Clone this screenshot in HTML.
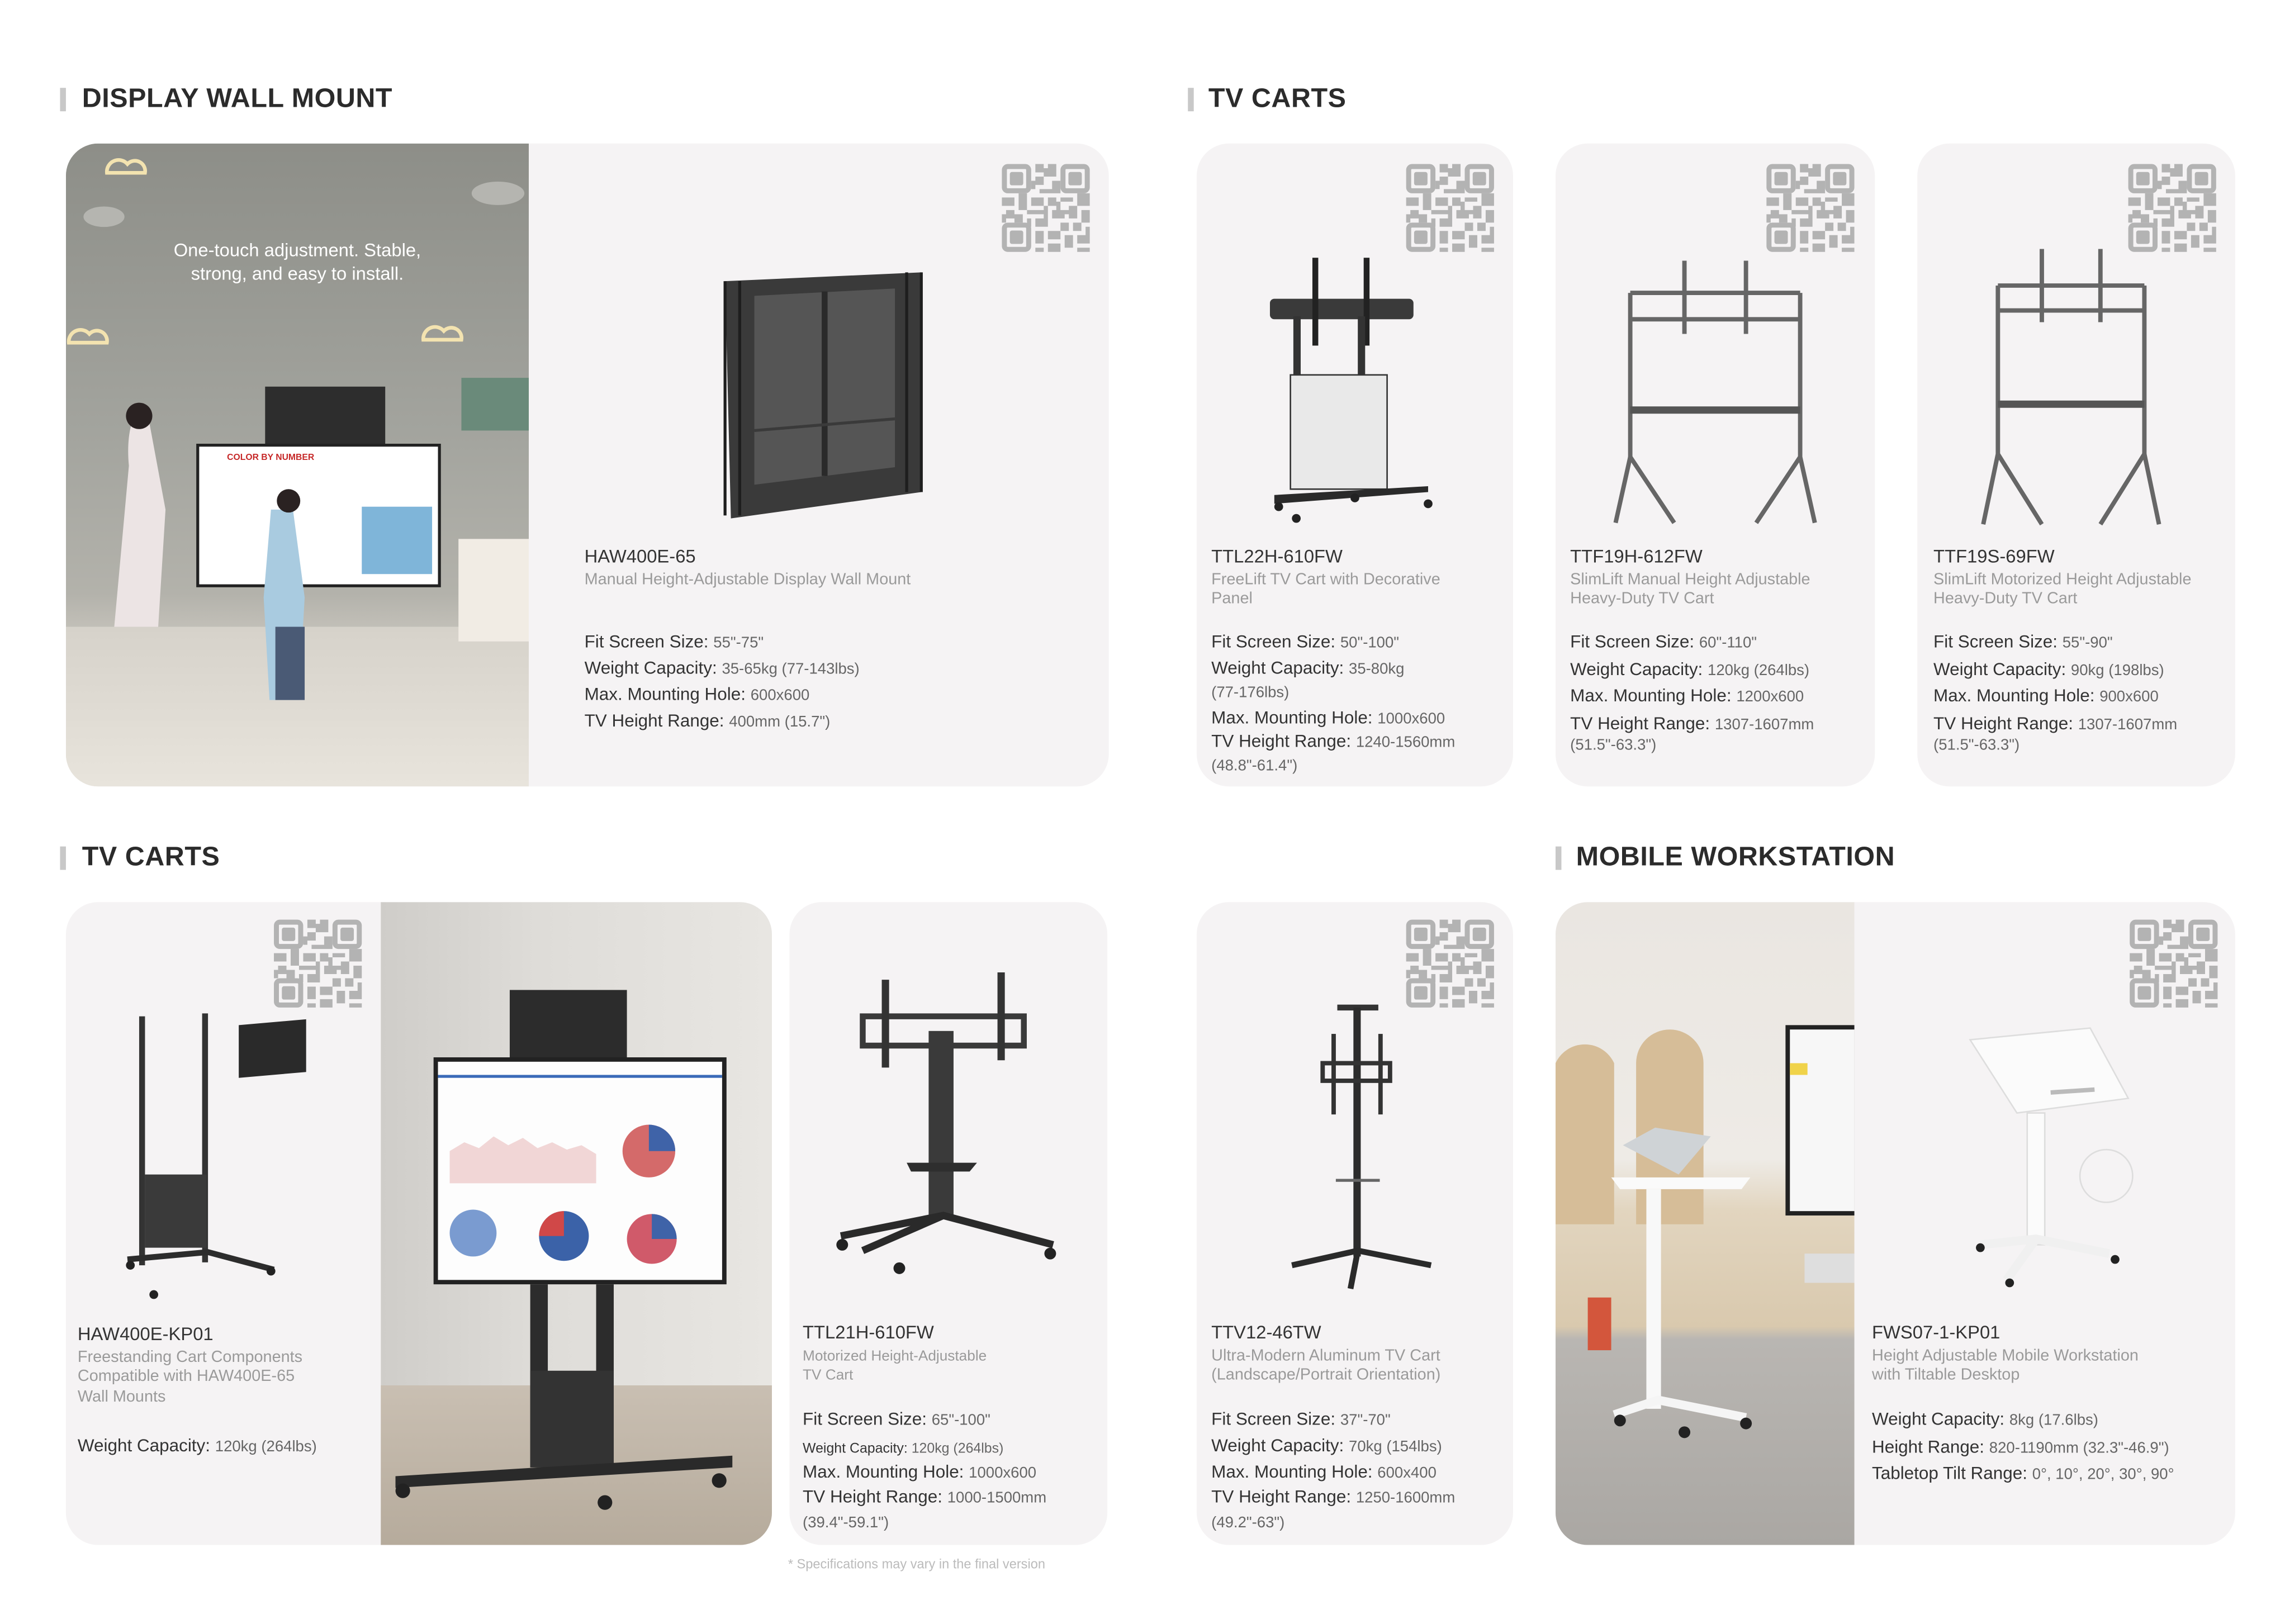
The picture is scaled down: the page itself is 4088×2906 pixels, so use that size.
<!DOCTYPE html>
<html><head><meta charset="utf-8">
<style>
html,body{margin:0;padding:0;background:#fff;}
body{width:4088px;height:2906px;overflow:hidden;position:relative;}
#w{position:absolute;left:0;top:0;width:1560px;height:1109px;transform:scale(2.6205);transform-origin:0 0;font-family:"Liberation Sans",sans-serif;}
.h{position:absolute;font-weight:bold;font-size:18.5px;color:#2b2b2b;letter-spacing:0.2px;}
.bar{position:absolute;width:4px;height:16px;background:#c8c8c8;}
.card{position:absolute;background:#f5f3f4;border-radius:22px;overflow:hidden;}
.t{position:absolute;white-space:nowrap;}
.m{font-size:12.5px;color:#333;}
.s{font-size:11px;color:#9a9a9a;line-height:13.3px;}
.p{font-size:12px;color:#333;line-height:17px;}
.p span{font-size:10.5px;color:#666;}
.qr{position:absolute;width:60px;height:60px;}
svg{position:absolute;overflow:visible;}
</style></head><body><div id="w">
<svg width="0" height="0" style="position:absolute">
<defs>
<g id="qr">
<rect x="0.6" y="0.6" width="5.8" height="5.8" rx="0.8" fill="none" stroke="#b3b3b3" stroke-width="1.2"/>
<rect x="1.9" y="1.9" width="3.2" height="3.2" rx="0.5" fill="#b3b3b3"/>
<rect x="14.6" y="0.6" width="5.8" height="5.8" rx="0.8" fill="none" stroke="#b3b3b3" stroke-width="1.2"/>
<rect x="15.9" y="1.9" width="3.2" height="3.2" rx="0.5" fill="#b3b3b3"/>
<rect x="0.6" y="14.6" width="5.8" height="5.8" rx="0.8" fill="none" stroke="#b3b3b3" stroke-width="1.2"/>
<rect x="1.9" y="15.9" width="3.2" height="3.2" rx="0.5" fill="#b3b3b3"/>
<path fill="#b3b3b3" d="M8 0h2v2H8zM11 0h2v1h-2zM10 1h3v2h-3zM8 3h2v2H8zM12 4h2v3h-2zM9 6h3v1H9zM0 8h3v2H0zM4 7h2v4H4zM7 8h3v2H7zM11 8h2v2h-2zM14 8h3v1h-3zM18 7h3v3h-3zM1 11h2v2H1zM6 11h4v1H6zM12 11h3v2h-3zM16 10h2v3h-2zM19 11h2v3h-2zM8 13h3v2H8zM3 12h2v2H3zM0 12h1v2H0zM6 13h1v2H6zM14 14h2v2h-2zM17 14h2v2h-2zM8 16h2v3H8zM11 16h3v2h-3zM15 17h2v3h-2zM18 17h3v2h-3zM11 19h3v2h-3zM18 20h3v1h-3zM8 20h2v1H8zM13 9h1v2h-1zM10 10h1v3h-1zM20 15h1v2h-1zM15 11h1v1h-1zM7 4h1v2H7z"/>
</g>
</defs></svg>

<!-- headers -->
<div class="bar" style="left:41px;top:60px"></div><div class="h" style="left:56px;top:56px">DISPLAY WALL MOUNT</div>
<div class="bar" style="left:811px;top:60px"></div><div class="h" style="left:825px;top:56px">TV CARTS</div>
<div class="bar" style="left:41px;top:578px"></div><div class="h" style="left:56px;top:574px">TV CARTS</div>
<div class="bar" style="left:1062px;top:578px"></div><div class="h" style="left:1076px;top:574px">MOBILE WORKSTATION</div>

<!-- Card A -->
<div class="card" style="left:45px;top:98px;width:712px;height:439px">
  <div style="position:absolute;left:0;top:0;width:316px;height:439px;background:linear-gradient(180deg,#8d8e88 0%,#a3a49e 45%,#b3b2ab 70%,#cfcbc3 80%,#e2ddd4 100%)"></div>
  <div style="position:absolute;left:0;top:330px;width:316px;height:109px;background:linear-gradient(180deg,#d6d2ca,#e8e4dc)"></div>
  <div class="t" style="left:0;width:316px;top:65px;text-align:center;color:#fff;font-size:12.5px;line-height:16px;white-space:normal">One-touch adjustment. Stable,<br>strong, and easy to install.</div>
  <svg style="left:0;top:0" width="316" height="439">
   <g fill="none" stroke="#f3e3b0" stroke-width="2.5"><path d="M28 20a8 8 0 0 1 14-6a7 7 0 0 1 12 6h-26z"/><path d="M2 136a8 8 0 0 1 14-6a7 7 0 0 1 12 6z"/><path d="M244 134a8 8 0 0 1 14-6a7 7 0 0 1 12 6z"/></g>
   <ellipse cx="26" cy="50" rx="14" ry="7" fill="#b5b5b0"/><ellipse cx="295" cy="34" rx="18" ry="8" fill="#b5b5b0"/>
   <rect x="136" y="166" width="82" height="40" fill="#2d2d2d"/>
   <rect x="90" y="206" width="165" height="96" fill="#fff" stroke="#222" stroke-width="2"/>
   <text x="110" y="216" font-size="6" fill="#c62828" font-weight="bold" font-family="Liberation Sans">COLOR BY NUMBER</text>
   <rect x="202" y="248" width="48" height="46" fill="#7fb5d9"/>
   <path d="M55 180c-10 0-14 20-12 40l-10 110 30 0 5-80z" fill="#ece4e4"/>
   <circle cx="50" cy="186" r="9" fill="#2a2222"/>
   <path d="M140 250l15 0 8 60-4 70-20 0-4-70z" fill="#a9cbe0"/>
   <rect x="143" y="330" width="20" height="50" fill="#4a5a75"/>
   <circle cx="152" cy="244" r="8" fill="#2a2222"/>
   <rect x="268" y="270" width="48" height="70" fill="#f1ece4"/>
   <rect x="270" y="160" width="46" height="36" fill="#6a8a7a"/>
  </svg>
  <svg style="left:448px;top:84px" width="140" height="172">
   <path d="M2 10l134-6v150l-130 18z" fill="#3a3a3a"/>
   <path d="M22 20l96-5v122l-96 12z" fill="#555"/>
   <path d="M70 17v126" stroke="#2a2a2a" stroke-width="4"/>
   <path d="M22 112l96-8" stroke="#3a3a3a" stroke-width="2"/>
   <path d="M2 10v160M136 4v150M12 10v160M126 4v150" stroke="#1e1e1e" stroke-width="2"/>
  </svg>
  <svg class="qr" style="left:639px;top:14px" width="60" height="60" viewBox="0 0 21 21"><use href="#qr"/></svg>
  <div class="t m" style="left:354px;top:275px">HAW400E-65</div>
  <div class="t s" style="left:354px;top:292px">Manual Height-Adjustable Display Wall Mount</div>
  <div class="t p" style="left:354px;top:332px">Fit Screen Size: <span>55"-75"</span><br>Weight Capacity: <span>35-65kg (77-143lbs)</span><br>Max. Mounting Hole: <span>600x600</span><br>TV Height Range: <span>400mm (15.7")</span></div>
</div>

<!-- Card B -->
<div class="card" style="left:817px;top:98px;width:216px;height:439px">
  <svg class="qr" style="left:143px;top:14px" width="60" height="60" viewBox="0 0 21 21"><use href="#qr"/></svg>
  <svg style="left:48px;top:78px" width="120" height="180">
   <rect x="2" y="28" width="98" height="14" rx="3" fill="#3a3a3a"/>
   <rect x="31" y="0" width="4" height="60" fill="#222"/><rect x="66" y="0" width="4" height="60" fill="#222"/>
   <rect x="18" y="40" width="5" height="45" fill="#333"/><rect x="62" y="40" width="5" height="45" fill="#333"/>
   <rect x="16" y="80" width="66" height="78" fill="#e9e9e9" stroke="#333" stroke-width="1"/>
   <path d="M5 162l105-6v4l-105 8z" fill="#2a2a2a"/>
   <circle cx="8" cy="170" r="3" fill="#222"/><circle cx="110" cy="168" r="3" fill="#222"/><circle cx="60" cy="164" r="3" fill="#222"/><circle cx="20" cy="178" r="3" fill="#222"/>
  </svg>
  <div class="t m" style="left:10px;top:275px">TTL22H-610FW</div>
  <div class="t s" style="left:10px;top:292px">FreeLift TV Cart with Decorative<br>Panel</div>
  <div class="t p" style="left:10px;top:332px">Fit Screen Size: <span>50"-100"</span></div>
  <div class="t p" style="left:10px;top:350px">Weight Capacity: <span>35-80kg</span></div>
  <div class="t p" style="left:10px;top:366px"><span>(77-176lbs)</span></div>
  <div class="t p" style="left:10px;top:384px">Max. Mounting Hole: <span>1000x600</span></div>
  <div class="t p" style="left:10px;top:400px">TV Height Range: <span>1240-1560mm</span></div>
  <div class="t p" style="left:10px;top:416px"><span>(48.8"-61.4")</span></div>
</div>

<!-- Card C -->
<div class="card" style="left:1062px;top:98px;width:218px;height:439px">
  <svg class="qr" style="left:144px;top:14px" width="60" height="60" viewBox="0 0 21 21"><use href="#qr"/></svg>
  <svg style="left:36px;top:80px" width="150" height="190" fill="none" stroke="#666" stroke-width="3">
   <path d="M15 22h116M15 40h116M15 22v112M131 22v112M52 0v50M94 0v50"/>
   <path d="M15 134l-10 45M15 134l30 45M131 134l-30 45M131 134l10 45"/>
   <path d="M15 102h116" stroke="#555" stroke-width="5"/>
  </svg>
  <div class="t m" style="left:10px;top:275px">TTF19H-612FW</div>
  <div class="t s" style="left:10px;top:292px">SlimLift Manual Height Adjustable<br>Heavy-Duty TV Cart</div>
  <div class="t p" style="left:10px;top:332px;line-height:17.5px">Fit Screen Size: <span>60"-110"</span><br>Weight Capacity: <span>120kg (264lbs)</span><br>Max. Mounting Hole: <span>1200x600</span><br>TV Height Range: <span>1307-1607mm</span></div>
  <div class="t p" style="left:10px;top:402px"><span>(51.5"-63.3")</span></div>
</div>

<!-- Card D -->
<div class="card" style="left:1309px;top:98px;width:217px;height:439px">
  <svg class="qr" style="left:144px;top:14px" width="60" height="60" viewBox="0 0 21 21"><use href="#qr"/></svg>
  <svg style="left:40px;top:72px" width="150" height="195" fill="none" stroke="#666" stroke-width="3">
   <path d="M15 25h100M15 42h100M15 25v115M115 25v115M45 0v50M85 0v50"/>
   <path d="M15 140l-10 48M15 140l30 48M115 140l-30 48M115 140l10 48"/>
   <path d="M15 106h100" stroke="#555" stroke-width="5"/>
  </svg>
  <div class="t m" style="left:11px;top:275px">TTF19S-69FW</div>
  <div class="t s" style="left:11px;top:292px">SlimLift Motorized Height Adjustable<br>Heavy-Duty TV Cart</div>
  <div class="t p" style="left:11px;top:332px;line-height:17.5px">Fit Screen Size: <span>55"-90"</span><br>Weight Capacity: <span>90kg (198lbs)</span><br>Max. Mounting Hole: <span>900x600</span><br>TV Height Range: <span>1307-1607mm</span></div>
  <div class="t p" style="left:11px;top:402px"><span>(51.5"-63.3")</span></div>
</div>

<!-- Card E -->
<div class="card" style="left:45px;top:616px;width:482px;height:439px">
  <div style="position:absolute;left:215px;top:0;width:267px;height:439px;background:linear-gradient(90deg,#cfcdc9 0%,#dedcd8 40%,#e8e6e2 100%)"></div>
  <div style="position:absolute;left:215px;top:330px;width:267px;height:109px;background:linear-gradient(180deg,#c9bfb2,#b6ab9c)"></div>
  <svg style="left:0;top:0" width="482" height="439">
   <rect x="303" y="60" width="80" height="50" fill="#2c2c2c"/>
   <rect x="251" y="106" width="200" height="155" fill="#222"/>
   <rect x="254" y="109" width="194" height="149" fill="#fdfdfd"/>
   <rect x="254" y="118" width="194" height="2" fill="#3a6ab8"/>
   <path d="M262 170l10-6 10 4 10-8 10 6 10-5 10 7 10-4 10 5 10-3 10 6v20h-100z" fill="#f1d6d6"/>
   <circle cx="398" cy="170" r="18" fill="#d46a6a"/><path d="M398 170v-18a18 18 0 0 1 18 18z" fill="#3f63a8"/>
   <circle cx="278" cy="226" r="16" fill="#7a9bd0"/><circle cx="340" cy="228" r="17" fill="#3b62a8"/><path d="M340 228l-17 0a17 17 0 0 1 17-17z" fill="#d04848"/>
   <circle cx="400" cy="230" r="17" fill="#d05a6a"/><path d="M400 230v-17a17 17 0 0 1 17 17z" fill="#3f63a8"/>
   <rect x="317" y="261" width="12" height="125" fill="#2c2c2c"/><rect x="362" y="261" width="12" height="125" fill="#2c2c2c"/>
   <rect x="317" y="320" width="57" height="66" fill="#333"/>
   <path d="M225 392l230 -14v8l-230 14z" fill="#2a2a2a"/>
   <circle cx="230" cy="402" r="5" fill="#222"/><circle cx="368" cy="410" r="5" fill="#222"/><circle cx="446" cy="395" r="5" fill="#222"/>
  </svg>
  <svg style="left:40px;top:76px" width="170" height="200">
   <rect x="10" y="2" width="4" height="170" fill="#333"/><rect x="53" y="0" width="4" height="170" fill="#333"/>
   <rect x="14" y="110" width="42" height="50" fill="#3a3a3a"/>
   <path d="M2 168l55-5 45 12" stroke="#2c2c2c" stroke-width="4" fill="none"/>
   <circle cx="4" cy="172" r="3" fill="#222"/><circle cx="100" cy="176" r="3" fill="#222"/><circle cx="20" cy="192" r="3" fill="#222"/>
   <path d="M78 8l46-4v36l-46 4z" fill="#2a2a2a"/>
  </svg>
  <svg class="qr" style="left:142px;top:12px" width="60" height="60" viewBox="0 0 21 21"><use href="#qr"/></svg>
  <div class="t m" style="left:8px;top:288px">HAW400E-KP01</div>
  <div class="t s" style="left:8px;top:305px">Freestanding Cart Components<br>Compatible with HAW400E-65<br>Wall Mounts</div>
  <div class="t p" style="left:8px;top:363px">Weight Capacity: <span>120kg (264lbs)</span></div>
</div>

<!-- Card F -->
<div class="card" style="left:539px;top:616px;width:217px;height:439px">
  <svg style="left:30px;top:48px" width="160" height="210">
   <path d="M20 30h110v20H20z" fill="none" stroke="#3a3a3a" stroke-width="4"/>
   <rect x="33" y="5" width="5" height="60" fill="#333"/><rect x="112" y="0" width="5" height="60" fill="#333"/>
   <rect x="65" y="40" width="17" height="126" fill="#3a3a3a"/>
   <path d="M50 130h48l-5 6h-40z" fill="#2e2e2e"/>
   <path d="M5 180l70-14 75 20M20 190l55-24" stroke="#2a2a2a" stroke-width="5" fill="none"/>
   <circle cx="6" cy="186" r="4" fill="#222"/><circle cx="148" cy="192" r="4" fill="#222"/><circle cx="45" cy="202" r="4" fill="#222"/>
  </svg>
  <div class="t m" style="left:9px;top:287px">TTL21H-610FW</div>
  <div class="t s" style="left:9px;top:304px;font-size:10px">Motorized Height-Adjustable<br>TV Cart</div>
  <div class="t p" style="left:9px;top:345px">Fit Screen Size: <span>65"-100"</span></div>
  <div class="t p" style="left:9px;top:364px"><span style="font-size:9.5px;color:#333">Weight Capacity: </span><span style="font-size:9.5px">120kg (264lbs)</span></div>
  <div class="t p" style="left:9px;top:381px">Max. Mounting Hole: <span>1000x600</span></div>
  <div class="t p" style="left:9px;top:398px">TV Height Range: <span>1000-1500mm</span></div>
  <div class="t p" style="left:9px;top:415px"><span>(39.4"-59.1")</span></div>
</div>
<div class="t" style="left:538px;top:1063px;font-size:9px;color:#bbb">* Specifications may vary in the final version</div>

<!-- Card G -->
<div class="card" style="left:817px;top:616px;width:216px;height:439px">
  <svg class="qr" style="left:143px;top:12px" width="60" height="60" viewBox="0 0 21 21"><use href="#qr"/></svg>
  <svg style="left:60px;top:70px" width="110" height="200">
   <rect x="36" y="0" width="28" height="4" fill="#333"/>
   <rect x="47" y="2" width="5" height="170" fill="#2c2c2c"/>
   <rect x="26" y="40" width="46" height="12" fill="none" stroke="#333" stroke-width="3"/>
   <rect x="32" y="20" width="3" height="55" fill="#333"/><rect x="64" y="20" width="3" height="55" fill="#333"/>
   <path d="M35 120h30" stroke="#666" stroke-width="2"/>
   <path d="M5 178l45-10 50 10M50 168l-5 26" stroke="#2a2a2a" stroke-width="4" fill="none"/>
  </svg>
  <div class="t m" style="left:10px;top:287px">TTV12-46TW</div>
  <div class="t s" style="left:10px;top:304px">Ultra-Modern Aluminum TV Cart<br>(Landscape/Portrait Orientation)</div>
  <div class="t p" style="left:10px;top:345px">Fit Screen Size: <span>37"-70"</span></div>
  <div class="t p" style="left:10px;top:363px">Weight Capacity: <span>70kg (154lbs)</span></div>
  <div class="t p" style="left:10px;top:381px">Max. Mounting Hole: <span>600x400</span></div>
  <div class="t p" style="left:10px;top:398px">TV Height Range: <span>1250-1600mm</span></div>
  <div class="t p" style="left:10px;top:415px"><span>(49.2"-63")</span></div>
</div>

<!-- Card H -->
<div class="card" style="left:1062px;top:616px;width:464px;height:439px">
  <div style="position:absolute;left:0;top:0;width:204px;height:439px;background:linear-gradient(180deg,#eae6e1 0%,#eeebe6 40%,#e2d5bf 48%,#d9c9ae 66%,#b9b6b2 68%,#aaa7a3 100%)"></div>
  <svg style="left:0;top:0" width="204" height="439">
   <path d="M0 110a22 22 0 0 1 40 0v110H0z" fill="#d6bd98"/><path d="M55 110a22 22 0 0 1 46 0v110H55z" fill="#d6bd98"/>
   <rect x="157" y="84" width="47" height="130" fill="#222"/><rect x="160" y="87" width="44" height="124" fill="#f7f7f7"/><rect x="160" y="110" width="12" height="8" fill="#f0d34a"/>
   <path d="M38 188h95l-6 8H44z" fill="#fafafa"/>
   <path d="M46 166l22-12 38 6 -22 26z" fill="#cfd3d6"/>
   <rect x="62" y="196" width="10" height="150" fill="#f8f8f8"/>
   <path d="M40 350l30-10 60 12" stroke="#f5f5f5" stroke-width="6" fill="none"/>
   <circle cx="44" cy="354" r="4" fill="#222"/><circle cx="130" cy="356" r="4" fill="#222"/><circle cx="88" cy="362" r="4" fill="#222"/>
   <rect x="22" y="270" width="16" height="36" fill="#d3563c"/>
   <rect x="170" y="240" width="34" height="20" fill="#dedede"/>
  </svg>
  <svg style="left:278px;top:84px" width="140" height="190">
   <path d="M5 10l82-8 26 48-76 10z" fill="#fbfbfb" stroke="#ddd"/>
   <path d="M60 46l30-2" stroke="#bbb" stroke-width="3"/>
   <rect x="44" y="60" width="12" height="90" fill="#fbfbfb" stroke="#ddd"/>
   <circle cx="98" cy="103" r="18" fill="none" stroke="#ddd"/>
   <path d="M12 150l38-4 50 10M50 146l-20 28" stroke="#f0f0f0" stroke-width="6" fill="none"/>
   <circle cx="12" cy="152" r="3" fill="#222"/><circle cx="104" cy="160" r="3" fill="#222"/><circle cx="32" cy="176" r="3" fill="#222"/>
  </svg>
  <svg class="qr" style="left:392px;top:12px" width="60" height="60" viewBox="0 0 21 21"><use href="#qr"/></svg>
  <div class="t m" style="left:216px;top:287px">FWS07-1-KP01</div>
  <div class="t s" style="left:216px;top:304px">Height Adjustable Mobile Workstation<br>with Tiltable Desktop</div>
  <div class="t p" style="left:216px;top:345px;line-height:17.7px">Weight Capacity: <span>8kg (17.6lbs)</span><br>Height Range: <span>820-1190mm (32.3"-46.9")</span><br>Tabletop Tilt Range: <span>0°, 10°, 20°, 30°, 90°</span></div>
</div>

</div></body></html>
